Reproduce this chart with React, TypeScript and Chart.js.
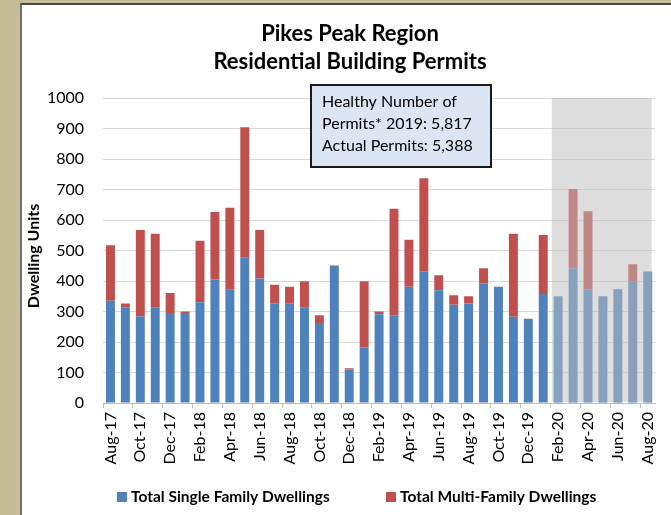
import React, { useEffect, useRef } from "react";
import { Chart, registerables } from "chart.js";

Chart.register(...registerables);

const months = [
  "Aug-17", "Sep-17", "Oct-17", "Nov-17", "Dec-17", "Jan-18", "Feb-18", "Mar-18", "Apr-18", "May-18",
  "Jun-18", "Jul-18", "Aug-18", "Sep-18", "Oct-18", "Nov-18", "Dec-18", "Jan-19", "Feb-19", "Mar-19",
  "Apr-19", "May-19", "Jun-19", "Jul-19", "Aug-19", "Sep-19", "Oct-19", "Nov-19", "Dec-19", "Jan-20",
  "Feb-20", "Mar-20", "Apr-20", "May-20", "Jun-20", "Jul-20", "Aug-20",
];

const singleFamily = [
  335, 314, 284, 314, 295, 295, 330, 405, 373, 478,
  408, 327, 327, 314, 262, 451, 110, 183, 291, 288,
  381, 432, 370, 322, 326, 393, 381, 283, 276, 357,
  350, 442, 373, 350, 373, 399, 431,
];

const multiFamily = [
  182, 12, 283, 241, 66, 5, 202, 221, 267, 426,
  159, 61, 54, 85, 26, 0, 4, 216, 9, 349,
  154, 305, 49, 31, 24, 49, 0, 272, 0, 194,
  0, 260, 256, 0, 0, 56, 0,
];

const titleLines = ["Pikes Peak Region", "Residential Building Permits"];
const yTitle = "Dwelling Units";
const noteLines = ["Healthy Number of", "Permits* 2019: 5,817", "Actual Permits: 5,388"];
const shadedFrom = "Feb-20";
const yTicks = { min: 0, max: 1000, step: 100 };

const FONT = "Lato, 'Open Sans', sans-serif";
const BLUE = "#4f81bd";
const RED = "#c0504d";

export default function App() {
  const ref = useRef<HTMLCanvasElement | null>(null);

  useEffect(() => {
    if (!ref.current) return;

    const decor = {
      id: "decor",
      afterDatasetsDraw(chart: any) {
        const { ctx, scales } = chart;
        const x = scales.x;
        const y = scales.y;
        const i0 = months.indexOf(shadedFrom);
        const last = months.length - 1;
        const cw = x.getPixelForValue(1) - x.getPixelForValue(0);
        const left = x.getPixelForValue(i0) - cw * 0.43;
        const right = x.getPixelForValue(last) + cw * 0.27;
        const top = y.getPixelForValue(yTicks.max);
        const bottom = y.getPixelForValue(0) - 1;
        ctx.save();
        ctx.fillStyle = "rgba(190,190,190,0.51)";
        ctx.fillRect(left, top, right - left, bottom - top);
        ctx.restore();
      },
      afterDraw(chart: any) {
        const { ctx } = chart;
        ctx.save();
        // title
        ctx.fillStyle = "#000";
        ctx.font = `bold 22px ${FONT}`;
        ctx.textAlign = "center";
        ctx.textBaseline = "middle";
        ctx.fillText(titleLines[0], 350, 34);
        ctx.fillText(titleLines[1], 350, 62);
        // y title
        ctx.save();
        ctx.translate(34, 256);
        ctx.rotate(-Math.PI / 2);
        ctx.font = `bold 16px ${FONT}`;
        ctx.fillText(yTitle, 0, 0);
        ctx.restore();
        // note box
        ctx.fillStyle = "#dce6f2";
        ctx.fillRect(311, 85, 180, 82);
        ctx.strokeStyle = "#1a1a1a";
        ctx.lineWidth = 2;
        ctx.strokeRect(311, 85, 180, 82);
        ctx.fillStyle = "#000";
        ctx.font = `16px ${FONT}`;
        ctx.textAlign = "left";
        ctx.textBaseline = "alphabetic";
        ctx.fillText(noteLines[0], 322, 107);
        ctx.fillText(noteLines[1], 322, 129);
        ctx.fillText(noteLines[2], 322, 151);
        // legend
        ctx.font = `bold 15.5px ${FONT}`;
        ctx.textBaseline = "middle";
        const items = [
          { label: chart.data.datasets[0].label, color: BLUE, x: 117 },
          { label: chart.data.datasets[1].label, color: RED, x: 386 },
        ];
        items.forEach((it) => {
          ctx.fillStyle = it.color;
          ctx.fillRect(it.x, 492, 10, 10);
          ctx.fillStyle = "#000";
          ctx.fillText(it.label, it.x + 14, 497);
        });
        ctx.restore();
      },
    };

    const chart = new Chart(ref.current, {
      type: "bar",
      data: {
        labels: months,
        datasets: [
          {
            label: "Total Single Family Dwellings",
            data: singleFamily,
            backgroundColor: BLUE,
            barPercentage: 0.6,
            categoryPercentage: 1,
          },
          {
            label: "Total Multi-Family Dwellings",
            data: multiFamily,
            backgroundColor: RED,
            barPercentage: 0.6,
            categoryPercentage: 1,
          },
        ],
      },
      options: {
        animation: false,
        responsive: false,
        devicePixelRatio: 1,
        layout: { padding: { top: 98, left: 40, right: 8, bottom: 32 } },
        plugins: {
          legend: { display: false },
          title: { display: false },
          tooltip: { enabled: false },
        },
        scales: {
          x: {
            stacked: true,
            afterFit: (s: any) => {
              s.height = 80;
            },
            grid: {
              drawOnChartArea: false,
              drawTicks: true,
              tickLength: 5,
              color: (c: any) => (c.index % 2 === 0 ? "#bfbfbf" : "rgba(0,0,0,0)"),
            },
            border: { display: true, color: "#bfbfbf", width: 1 },
            ticks: {
              autoSkip: false,
              minRotation: 90,
              maxRotation: 90,
              padding: 4,
              color: "#000",
              font: { family: FONT, size: 16 },
              callback: (_v: any, i: number) => (i % 2 === 0 ? months[i] : ""),
            },
          },
          y: {
            stacked: true,
            min: yTicks.min,
            max: yTicks.max,
            afterFit: (s: any) => {
              s.width = 63;
            },
            grid: { color: "#d9d9d9", drawTicks: false, lineWidth: 1 },
            border: { display: false },
            ticks: {
              stepSize: yTicks.step,
              padding: 19,
              color: "#000",
              font: { family: FONT, size: 16 },
              callback: (v: any) => String(v),
            },
          },
        },
      },
      plugins: [decor],
    });
    return () => chart.destroy();
  }, []);

  return (
    <div style={{ position: "fixed", left: 0, top: 0, width: 671, height: 515, background: "#c4bd97" }}>
      <div
        style={{
          position: "absolute",
          left: 20,
          top: 3,
          right: 0,
          bottom: 0,
          background: "#fff",
          borderLeft: "2px solid #6f6f6f",
          borderTop: "2px solid #4a4a4a",
        }}
      />
      <canvas ref={ref} width={671} height={515} style={{ position: "absolute", left: 0, top: 0 }} />
    </div>
  );
}
